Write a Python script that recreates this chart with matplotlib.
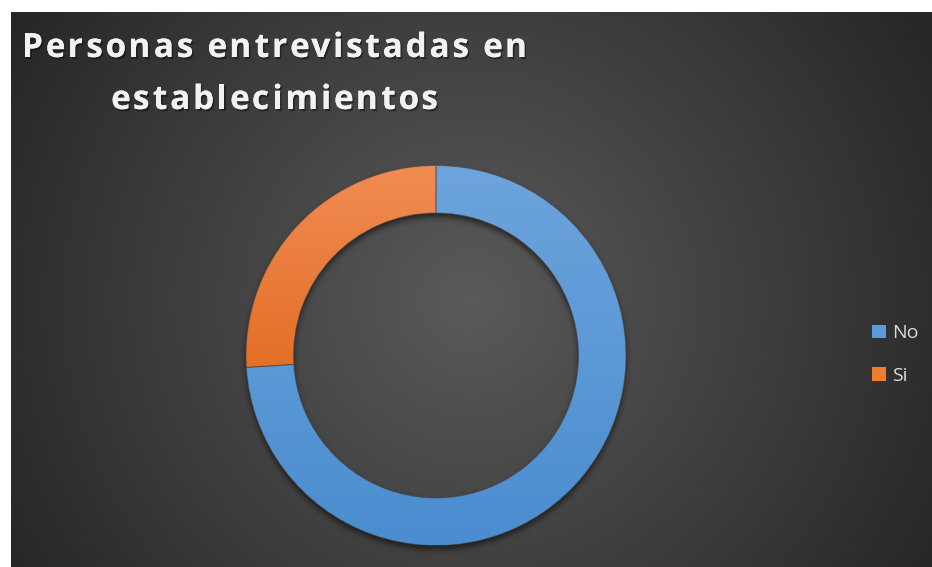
import matplotlib

matplotlib.use("Agg")
import matplotlib.pyplot as plt
import matplotlib.patheffects as pe
from matplotlib.font_manager import FontProperties
from matplotlib.patches import Patch
from matplotlib.colors import to_rgb
import numpy as np

# data
labels = ["No", "Si"]
values = [74, 26]
colors_top = ["#6da4dc", "#f18c53"]
colors_bottom = ["#4a8dd0", "#d85400"]
legend_colors = ["#5b9bd5", "#ed7d31"]
title_lines = ["Personas entrevistadas en", "establecimientos"]

W, H = 932, 567
fig = plt.figure(figsize=(W / 100, H / 100), dpi=100)
fig.patch.set_facecolor("white")
ax = fig.add_axes([0, 0, 1, 1])
ax.set_axis_off()

# chart area with radial background
x0, x1, y0, y1 = 11, W, 0, H - 12
gx, gy = np.meshgrid(np.arange(x0, x1), np.arange(y1, y0, -1))
cx_bg, cy_bg = 470, H - 300
d = np.clip(np.hypot(gx - cx_bg, gy - cy_bg) / 540, 0, 1)
light, dark = np.array(to_rgb("#5a5a5a")), np.array(to_rgb("#262626"))
bg = light[None, None, :] * (1 - d[..., None]) + dark[None, None, :] * d[..., None]
ax.imshow(bg, extent=[x0, x1, y0, y1], origin="upper", zorder=0, interpolation="bilinear")

# donut geometry
cx, cy = 436, H - 355.5
r_out, ring = 190, 0.25
r_in = r_out * (1 - ring)


def blur(a, sigma):
    k = np.arange(-3 * sigma, 3 * sigma + 1)
    k = np.exp(-0.5 * (k / sigma) ** 2)
    k /= k.sum()
    a = np.apply_along_axis(lambda m: np.convolve(m, k, mode="same"), 0, a)
    return np.apply_along_axis(lambda m: np.convolve(m, k, mode="same"), 1, a)


# soft drop shadow under the ring
sx, sy = np.meshgrid(np.arange(0, W) + 0.5, np.arange(H, 0, -1) - 0.5)
rr = np.hypot(sx - cx, sy - (cy - 4))
mask = ((rr <= r_out) & (rr >= r_in)).astype(float)
shadow = np.zeros((H, W, 4))
shadow[..., 3] = 0.55 * blur(mask, 3)
ax.imshow(shadow, extent=[0, W, 0, H], origin="upper", zorder=1)

wedges, _ = ax.pie(
    values,
    center=(cx, cy),
    radius=r_out,
    startangle=90,
    counterclock=False,
    colors=legend_colors,
    wedgeprops=dict(width=r_out * ring, edgecolor=(0.3, 0.27, 0.25, 0.55), linewidth=0.7),
)

# vertical gradient fill for each slice
t = np.linspace(0, 1, 256)[:, None]
for w, ct, cb in zip(wedges, colors_top, colors_bottom):
    top, bot = np.array(to_rgb(ct)), np.array(to_rgb(cb))
    grad = top[None, None, :] * (1 - t[..., None]) + bot[None, None, :] * t[..., None]
    grad = np.repeat(grad, 4, axis=1)
    im = ax.imshow(grad, extent=[cx - r_out, cx + r_out, cy - r_out, cy + r_out],
                   origin="upper", zorder=2, interpolation="bilinear")
    im.set_clip_path(w)
    w.set_facecolor("none")
    w.set_zorder(3)

ax.set_xlim(0, W)
ax.set_ylim(0, H)
ax.set_aspect("auto")

# title with letter spacing
renderer = fig.canvas.get_renderer()
tprop = FontProperties(family=["Open Sans", "DejaVu Sans"], weight="bold", size=24)


def text_width(s):
    return renderer.get_text_width_height_descent(s, tprop, ismath=False)[0]


def char_offsets(s):
    base = text_width("x")
    return [text_width(s[:i] + "x") - base if i else 0.0 for i in range(len(s))]


line1 = title_lines[0]
offs1 = char_offsets(line1)
natural = offs1[-1] + text_width(line1[-1])
track = (505 - natural) / (len(line1) - 1)
title_cx = 274.5
shadow_fx = [pe.withSimplePatchShadow(offset=(1.2, -1.5), shadow_rgbFace="black", alpha=0.4),
             pe.Normal()]

for line, base_y in zip(title_lines, [H - 57, H - 109]):
    offs = char_offsets(line)
    total = offs[-1] + text_width(line[-1]) + track * (len(line) - 1)
    start = title_cx - total / 2
    for i, ch in enumerate(line):
        if ch == " ":
            continue
        ax.text(start + offs[i] + track * i, base_y, ch, fontproperties=tprop,
                color="#f2f2f2", ha="left", va="baseline", zorder=6,
                path_effects=shadow_fx)

handles = [Patch(facecolor=c, edgecolor="none") for c in legend_colors]
leg = ax.legend(
    handles,
    labels,
    loc="center left",
    bbox_to_anchor=(872 / W, 1 - 354.5 / H),
    frameon=False,
    prop=FontProperties(family=["Open Sans", "DejaVu Sans"], size=14),
    handlelength=0.72,
    handleheight=0.7,
    handletextpad=0.3,
    labelspacing=1.26,
    borderpad=0,
    borderaxespad=0,
)
for txt in leg.get_texts():
    txt.set_color("#d9d9d9")

fig.savefig("out.png", dpi=100, facecolor="white")
